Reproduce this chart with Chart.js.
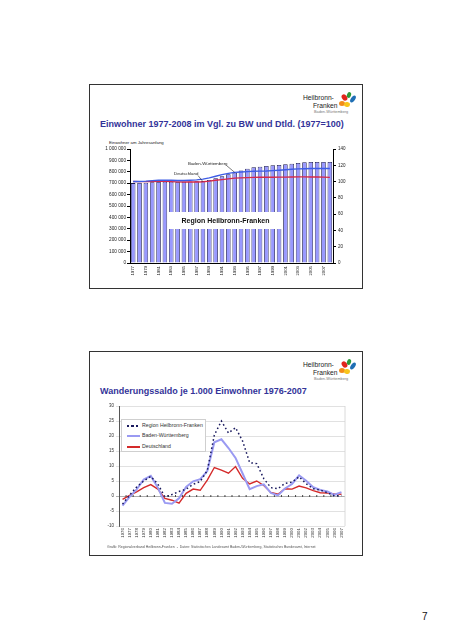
<!DOCTYPE html>
<html>
<head>
<meta charset="utf-8">
<script src="https://cdn.jsdelivr.net/npm/chart.js@4.4.0/dist/chart.umd.min.js"></script>
<style>
html, body { margin: 0; padding: 0; background: #fff; }
body { width: 452px; height: 640px; position: relative; overflow: hidden; font-family: "Liberation Sans", Arial, sans-serif; }
.slide { position: absolute; left: 89px; width: 272px; height: 203px; border: 1px solid #333; background: #fff; }
.abs { position: absolute; white-space: nowrap; line-height: 1; }
.title { left: 10px; top: 34.5px; font-size: 9px; font-weight: bold; color: #333399; }
.logo1 { left: 213px; top: 9.6px; font-size: 6.7px; color: #222; }
.logo2 { left: 223px; top: 17.6px; font-size: 6.7px; color: #222; }
.logo3 { left: 224px; top: 26px; font-size: 3.8px; color: #777; }
.petal { position: absolute; border-radius: 50%; }
canvas { position: absolute; }
.small { font-size: 4.4px; color: #222; }
.regionbox { left: 78px; top: 127px; width: 115px; height: 17px; background: #fff; font-size: 7px; font-weight: bold; color: #111; text-align: center; line-height: 17px; }
.legend { left: 31px; top: 67px; width: 83px; height: 31px; background: #fff; border: 0.6px solid #cfcfcf; }
.lgrow { position: absolute; left: 0; font-size: 5.2px; color: #333; white-space: nowrap; line-height: 1; }
.lgline { position: absolute; left: 5px; width: 13px; }
.lgtext { position: absolute; left: 20px; top: -2.6px; }
</style>
</head>
<body>

<div class="slide" id="slide1" style="top:84px;">
  <div class="abs logo1">Heilbronn-</div>
  <div class="abs logo2">Franken</div>
  <div class="abs logo3">Baden-Württemberg</div>
  <div class="abs title">Einwohner 1977-2008 im Vgl. zu BW und Dtld. (1977=100)</div>
  <div class="abs small" style="left:19px; top:56.4px; font-size:4.3px;">Einwohner am Jahresanfang</div>
  <canvas id="chart1" width="260" height="144" style="left:6px; top:54px; width:260px; height:144px;"></canvas>
  <div class="abs small" style="left:98px; top:76.8px;">Baden-Württemberg</div>
  <div class="abs small" style="left:84px; top:86.8px;">Deutschland</div>
  <div class="abs regionbox">Region Heilbronn-Franken</div>
</div>

<div class="slide" id="slide2" style="top:351px;">
  <div class="abs logo1">Heilbronn-</div>
  <div class="abs logo2">Franken</div>
  <div class="abs logo3">Baden-Württemberg</div>
  <div class="abs title">Wanderungssaldo je 1.000 Einwohner 1976-2007</div>
  <canvas id="chart2" width="255" height="147" style="left:6px; top:47px; width:255px; height:147px;"></canvas>
  <div class="abs legend">
    <div class="lgrow" style="top:6px;"><span class="lgline" style="top:-0.7px; height:1.5px; background:repeating-linear-gradient(90deg,#1a1a5e 0 2px,transparent 2px 4.5px);"></span><span class="lgtext">Region Heilbronn-Franken</span></div>
    <div class="lgrow" style="top:16px;"><span class="lgline" style="top:-1px; height:2px; background:#9a9af2;"></span><span class="lgtext">Baden-Württemberg</span></div>
    <div class="lgrow" style="top:27px;"><span class="lgline" style="top:-0.7px; height:1.4px; background:#d42a2a;"></span><span class="lgtext">Deutschland</span></div>
  </div>
  <div class="abs" style="left:17px; top:193.6px; font-size:3.5px; color:#555;">Grafik: Regionalverband Heilbronn-Franken &nbsp;-&nbsp; Daten: Statistisches Landesamt Baden-Württemberg, Statistisches Bundesamt, Internet</div>
</div>

<div class="abs" style="left:422px; top:612px; font-size:10px; color:#111;">7</div>

<script>
// ---- Einwohner (Balken, linke Achse) und Index 1977=100 (Linien, rechte Achse)
var years1 = ['1977','1978','1979','1980','1981','1982','1983','1984','1985','1986','1987','1988','1989','1990','1991','1992',
              '1993','1994','1995','1996','1997','1998','1999','2000','2001','2002','2003','2004','2005','2006','2007','2008'];
var einwohnerHF = [701000, 702000, 705000, 709000, 712000, 713000, 713000, 712000, 713000, 715000, 717000, 719000, 728000, 743000, 760000, 778000,
                   792000, 812000, 827000, 840000, 845000, 851000, 857000, 860000, 866000, 871000, 877000, 884000, 886000, 886000, 886000, 886000];
var indexBW = [100, 100.1, 100.5, 101.1, 101.7, 101.8, 101.6, 101.4, 101.4, 101.7, 102.1, 103.0, 104.5, 106.5, 108.5, 110.0,
               111.3, 111.8, 112.2, 112.6, 112.8, 113.0, 113.4, 113.9, 114.5, 115.2, 115.6, 115.8, 116.0, 116.1, 116.1, 116.1];
var indexDE = [100, 99.9, 99.9, 100.1, 100.3, 100.2, 99.9, 99.6, 99.4, 99.4, 99.5, 99.8, 100.6, 101.6, 102.4, 103.3,
               104.2, 104.5, 104.8, 105.1, 105.3, 105.3, 105.3, 105.4, 105.5, 105.7, 105.8, 105.8, 105.7, 105.6, 105.4, 105.2];
var leftMax = 1000000, leftStep = 100000;
var rightMax = 140, rightStep = 20;

// ---- Wanderungssaldo je 1.000 Einwohner
var years2 = ['1976','1977','1978','1979','1980','1981','1982','1983','1984','1985','1986','1987','1988','1989','1990','1991',
              '1992','1993','1994','1995','1996','1997','1998','1999','2000','2001','2002','2003','2004','2005','2006','2007'];
var saldoHF = [-2.7, 0.3, 3.0, 5.0, 6.5, 4.0, -0.3, 0.5, 1.5, 2.3, 3.9, 4.8, 8.5, 20.3, 25.0, 21.0,
               22.8, 18.3, 11.1, 10.8, 5.8, 2.8, 2.4, 4.2, 4.6, 6.4, 4.1, 2.4, 2.0, 1.1, 0.0, 0.2];
var saldoBW = [-3.2, -0.3, 2.2, 5.5, 6.7, 2.8, -2.3, -2.6, -0.8, 3.0, 4.9, 5.6, 8.3, 17.9, 18.9, 16.0,
               12.7, 7.5, 2.3, 3.3, 3.9, 1.0, 0.2, 2.5, 4.0, 6.9, 5.1, 2.9, 2.0, 1.5, 0.4, 1.3];
var saldoDE = [-1.1, 0.2, 1.4, 2.8, 3.8, 2.3, -0.8, -1.4, -2.4, 0.9, 2.3, 1.9, 5.3, 9.5, 8.6, 7.6,
               9.8, 5.9, 4.0, 5.0, 3.5, 1.2, 0.6, 2.4, 2.3, 3.3, 2.7, 1.8, 1.1, 1.0, 0.7, 0.6];

var FONT = '"Liberation Sans", Arial, sans-serif';

function addLogo(slideId) {
    var petals = [
        { dx: -3.5, dy: -3.5, w: 5, h: 7, rot: -35, color: '#e2261c' },
        { dx: 1.5, dy: -6, w: 4, h: 6, rot: 20, color: '#2e9a3a' },
        { dx: 5, dy: -1.5, w: 4, h: 8, rot: 35, color: '#1f6fb5' },
        { dx: -5.5, dy: 2.5, w: 6, h: 5, rot: 0, color: '#f28c1c' },
        { dx: -1, dy: 4, w: 6, h: 5, rot: 10, color: '#f8c51c' }
    ];
    var slide = document.getElementById(slideId);
    petals.forEach(function (p) {
        var d = document.createElement('div');
        d.className = 'petal';
        d.style.left = (257.5 + p.dx - p.w / 2) + 'px';
        d.style.top = (15.5 + p.dy - p.h / 2) + 'px';
        d.style.width = p.w + 'px';
        d.style.height = p.h + 'px';
        d.style.background = p.color;
        d.style.transform = 'rotate(' + p.rot + 'deg)';
        slide.appendChild(d);
    });
}
addLogo('slide1');
addLogo('slide2');

function spaced(v) {
    return String(v).replace(/\B(?=(\d{3})+(?!\d))/g, ' ');
}

//leader lines from the callout texts to the curves
var leaderLines = {
    id: 'leaderLines',
    afterDatasetsDraw: function (chart) {
        var ctx = chart.ctx;
        var bw = chart.getDatasetMeta(1).data[16];
        var de = chart.getDatasetMeta(2).data[11];
        ctx.save();
        ctx.strokeStyle = '#222';
        ctx.lineWidth = 0.6;
        ctx.beginPath();
        ctx.moveTo(130.5, 26.5);
        ctx.lineTo(bw.x, bw.y);
        ctx.moveTo(102, 36.5);
        ctx.lineTo(de.x, de.y);
        ctx.stroke();
        ctx.restore();
    }
};

new Chart(document.getElementById('chart1').getContext('2d'), {
    data: {
        labels: years1,
        datasets: [
            { type: 'bar', label: 'Region Heilbronn-Franken', data: einwohnerHF, yAxisID: 'y',
              backgroundColor: '#9999ff', borderColor: '#1c1c50', borderWidth: 0.8,
              barPercentage: 0.72, categoryPercentage: 1, order: 2 },
            { type: 'line', label: 'Baden-Württemberg', data: indexBW, yAxisID: 'y1',
              borderColor: '#3d5ce6', borderWidth: 1.4, pointRadius: 0, order: 1 },
            { type: 'line', label: 'Deutschland', data: indexDE, yAxisID: 'y1',
              borderColor: '#d6284b', borderWidth: 1.4, pointRadius: 0, order: 1 }
        ]
    },
    options: {
        responsive: false,
        animation: false,
        layout: { padding: { top: 10, left: 0, right: 0, bottom: 0 } },
        plugins: { legend: { display: false }, tooltip: { enabled: false } },
        scales: {
            x: {
                grid: { display: false, drawTicks: false, tickLength: 0 },
                border: { color: '#000', width: 1 },
                ticks: {
                    autoSkip: false, maxRotation: 90, minRotation: 90, padding: 3,
                    color: '#222', font: { family: FONT, size: 4.3 },
                    callback: function (v, i) { return i % 2 === 0 ? years1[i] : ''; }
                },
                afterFit: function (s) { s.height = 20; }
            },
            y: {
                position: 'left', min: 0, max: leftMax,
                grid: { drawOnChartArea: false, tickLength: 3, color: '#000' },
                border: { color: '#000', width: 1 },
                ticks: { stepSize: leftStep, padding: 1, color: '#222', font: { family: FONT, size: 4.7 }, callback: spaced },
                afterFit: function (s) { s.width = 34; }
            },
            y1: {
                position: 'right', min: 0, max: rightMax,
                grid: { drawOnChartArea: false, tickLength: 3, color: '#000' },
                border: { color: '#000', width: 1 },
                ticks: { stepSize: rightStep, padding: 2, color: '#222', font: { family: FONT, size: 4.5 } },
                afterFit: function (s) { s.width = 23; }
            }
        }
    },
    plugins: [leaderLines]
});

//small tick marks on the zero line and the right frame line
var zeroAxis = {
    id: 'zeroAxis',
    beforeDatasetsDraw: function (chart) {
        var ctx = chart.ctx, a = chart.chartArea;
        var y0 = chart.scales.y.getPixelForValue(0);
        var n = chart.scales.x.ticks.length;
        var step = (a.right - a.left) / n;
        ctx.save();
        ctx.strokeStyle = '#d0d0d0';
        ctx.lineWidth = 0.8;
        ctx.beginPath();
        ctx.moveTo(a.right, a.top);
        ctx.lineTo(a.right, a.bottom);
        ctx.stroke();
        ctx.strokeStyle = '#333';
        ctx.lineWidth = 0.9;
        ctx.beginPath();
        for (var k = 1; k < n; k++) {
            var xx = a.left + k * step;
            ctx.moveTo(xx, y0 - 1);
            ctx.lineTo(xx, y0 + 1);
        }
        ctx.stroke();
        ctx.restore();
    }
};

new Chart(document.getElementById('chart2').getContext('2d'), {
    type: 'line',
    data: {
        labels: years2,
        datasets: [
            { label: 'Region Heilbronn-Franken', data: saldoHF, borderColor: '#1a1a5e', borderWidth: 1.5,
              borderDash: [1.6, 2.6], pointRadius: 0 },
            { label: 'Baden-Württemberg', data: saldoBW, borderColor: '#9a9af2', borderWidth: 2, pointRadius: 0 },
            { label: 'Deutschland', data: saldoDE, borderColor: '#d42a2a', borderWidth: 1.4, pointRadius: 0 }
        ]
    },
    options: {
        responsive: false,
        animation: false,
        layout: { padding: { top: 7, left: 0, right: 6, bottom: 0 } },
        plugins: { legend: { display: false }, tooltip: { enabled: false } },
        scales: {
            x: {
                offset: true,
                grid: { display: false, drawTicks: false, tickLength: 0 },
                border: { display: false },
                ticks: { autoSkip: false, maxRotation: 90, minRotation: 90, padding: 2, color: '#333', font: { family: FONT, size: 4.4 } },
                afterFit: function (s) { s.height = 20; }
            },
            y: {
                min: -10, max: 30,
                grid: {
                    tickLength: 3,
                    color: function (c) { return c.tick && c.tick.value === 0 ? '#999' : '#d9d9d9'; },
                    lineWidth: 0.8
                },
                border: { color: '#555', width: 1 },
                ticks: { stepSize: 5, padding: 2, color: '#333', font: { family: FONT, size: 4.5 } },
                afterFit: function (s) { s.width = 23; }
            }
        }
    },
    plugins: [zeroAxis]
});
</script>
</body>
</html>
